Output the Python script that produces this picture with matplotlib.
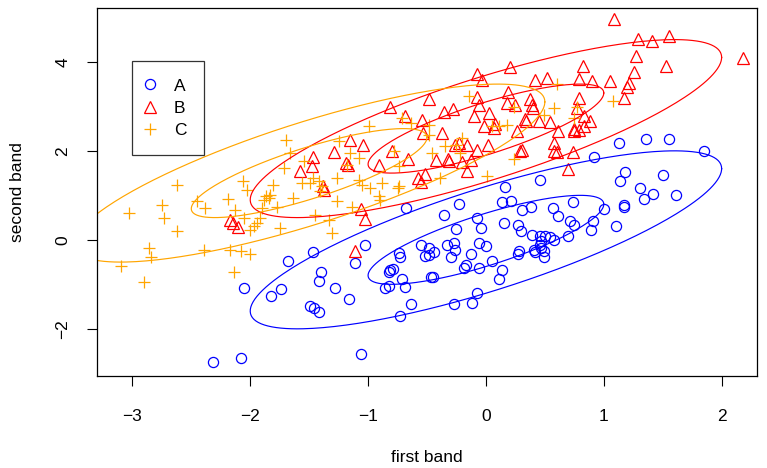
import numpy as np
import matplotlib
matplotlib.use("Agg")
import matplotlib.pyplot as plt
from matplotlib.lines import Line2D

plt.rcParams['font.family'] = ['Liberation Sans', 'DejaVu Sans']

# ---- data ----
A_x = [-2.05,-2.32,-2.08,-1.68,-1.47,-1.11,-1.40,-1.42,-1.28,-1.82,-1.74,-1.49,-1.46,-1.42,-1.16,-1.06,
       -0.81,-0.79,-0.82,-0.73,-0.71,-0.82,-0.86,-0.69,-0.64,-0.73,-0.52,-0.47,-0.44,-0.48,-0.30,-0.26,
       -0.13,-0.45,-0.19,-0.17,-0.06,0.05,0.14,0.11,0.27,0.42,0.49,-0.08,-0.27,-0.12,0.46,0.16,-0.23,
       0.14,0.21,0.31,0.38,0.57,0.74,0.61,-0.36,-0.08,0.15,0.27,0.30,-0.04,-0.25,0.71,0.75,0.91,0.89,
       0.39,0.46,0.50,0.54,0.58,0.47,0.46,0.47,0.70,-0.06,0.00,-0.33,-0.27,-0.48,0.28,0.41,0.49,
       1.13,1.36,1.55,1.85,0.92,1.18,1.14,1.50,1.31,1.42,1.34,1.61,1.17,1.17,1.00,1.10,-0.68,-1.03,
       -0.55,-0.74]
A_y = [-1.08,-2.74,-2.65,-0.47,-0.27,-0.52,-0.72,-0.92,-1.08,-1.26,-1.10,-1.48,-1.53,-1.62,-1.33,-2.56,
       -0.67,-0.65,-0.72,-0.38,-0.88,-1.03,-1.08,-1.06,-1.44,-1.71,-0.36,-0.83,-0.27,-0.34,-0.38,-0.22,
       -0.31,-0.83,-0.63,-0.56,-0.63,-0.47,-0.67,-0.88,-0.31,-0.27,-0.38,-1.19,-1.44,-1.42,1.35,1.19,0.81,
       0.85,0.88,0.67,0.74,0.72,0.85,0.54,0.56,0.49,0.38,0.34,0.20,0.27,0.25,0.43,0.34,0.43,0.22,
       0.11,0.09,0.09,0.07,0.00,-0.02,-0.11,-0.18,0.09,-0.07,-0.13,-0.11,-0.07,-0.18,-0.25,-0.22,-0.25,
       2.18,2.27,2.27,2.00,1.87,1.53,1.33,1.46,1.17,1.03,0.92,1.01,0.79,0.74,0.70,0.31,0.72,-0.11,
       -0.11,-0.29]

B_x = [-2.17,-2.15,-2.10,-1.15,-1.04,-1.29,-1.47,-1.48,-1.58,-1.19,-1.17,-1.38,-1.37,-1.06,-1.03,-0.91,
       -0.80,-0.66,-0.53,-0.52,-0.58,-0.55,-1.11,-0.81,-0.48,-0.69,-0.54,-0.08,0.20,-0.03,-0.36,-0.28,
       -0.10,0.03,-0.08,-0.06,0.19,0.18,0.25,0.37,0.39,0.40,0.33,0.34,0.45,0.54,0.42,0.52,0.82,0.79,
       0.90,0.79,0.77,0.83,0.88,0.83,-0.02,0.08,0.26,0.61,0.75,-0.37,0.07,-0.26,-0.23,-0.16,-0.08,0.02,
       -0.42,-0.32,-0.31,-0.20,-0.13,-0.16,0.31,0.29,0.79,0.75,0.58,0.58,0.60,0.74,0.70,1.09,1.29,1.41,
       1.55,2.18,1.27,1.53,1.26,1.05,1.21,1.20,1.17]
B_y = [0.45,0.38,0.29,2.25,2.13,1.98,1.87,1.66,1.55,1.73,1.69,1.21,1.12,0.70,0.47,1.69,
       2.00,1.82,2.40,1.48,1.39,1.30,-0.25,2.99,3.17,2.79,2.70,3.73,3.89,3.60,2.88,2.94,
       2.79,2.85,3.21,3.03,3.33,3.08,3.03,3.17,3.03,2.97,2.72,2.67,2.67,2.65,3.60,3.64,3.91,3.62,
       3.57,3.19,2.97,2.79,2.67,2.56,2.56,2.61,2.45,2.45,2.49,2.40,2.52,2.13,2.18,2.13,2.02,2.13,
       1.80,1.82,1.78,1.75,1.80,1.55,2.02,2.00,2.47,2.45,2.18,2.00,1.98,1.98,1.60,4.97,4.52,4.47,
       4.58,4.09,4.13,3.91,3.78,3.57,3.53,3.44,3.19]

C_x = [-2.62,-2.75,-2.73,-3.03,-2.62,-2.86,-2.45,-2.38,-2.19,-2.06,-2.03,-2.13,-2.05,-2.00,-1.97,-1.94,
       -1.92,-1.88,-1.90,-2.39,-2.17,-2.08,-3.10,-2.90,-2.84,-2.00,-2.14,-1.70,-1.66,-1.54,-1.71,-1.81,
       -1.87,-1.84,-1.83,-1.64,-1.77,-1.75,-1.45,-1.33,-1.31,-1.26,-1.14,-1.25,-1.15,-1.08,-1.18,-1.47,
       -1.42,-1.39,-1.26,-1.08,-1.05,-0.98,-0.88,-0.75,-0.91,-0.90,-0.74,-0.78,-0.74,-1.56,-1.49,-1.41,
       -0.99,-0.71,-0.64,-0.14,0.24,0.18,0.11,0.05,0.58,0.75,0.77,0.49,0.60,-0.48,-0.20,-0.25,-0.22,
       -0.35,-0.46,-0.48,0.24,0.01,-0.39,1.08]
C_y = [1.24,0.79,0.49,0.61,0.20,-0.18,0.88,0.72,0.92,1.33,1.12,0.67,0.49,0.22,0.31,0.38,
       0.49,0.90,0.72,-0.22,-0.22,-0.25,-0.58,-0.94,-0.38,-0.31,-0.72,2.25,1.96,1.78,1.62,1.24,
       0.99,0.94,1.01,0.94,0.74,0.27,0.56,0.45,0.16,0.88,0.74,2.22,1.96,1.84,1.69,1.39,
       1.33,1.21,1.39,1.35,1.24,1.17,1.28,1.17,0.99,0.90,1.21,2.00,1.66,1.28,1.28,1.10,
       2.56,2.74,2.63,3.24,2.99,2.58,2.56,2.56,2.97,2.74,2.99,2.81,3.51,2.58,2.29,2.13,1.96,
       2.11,1.96,2.36,1.82,1.44,1.39,3.12]

class_names = ["A", "B", "C"]
class_means = [(0.0, 0.0), (0.0, 2.5), (-1.5, 1.5)]
class_cov = [[1.0, 0.8], [0.8, 1.0]]
ellipse_scales = [1.0, 2.0]

xticks = [-3, -2, -1, 0, 1, 2]
yticks = [-2, 0, 2, 4]

colors = ["#0000FF", "#FF0000", "#FFA500"]
markers = ["o", "^", "+"]
msizes = [7.3, 8.3, 9]

FS = 12.5

fig = plt.figure(figsize=(7.67, 4.68), dpi=100)
ax = fig.add_axes([97/767, 1-376/468, 660/767, 368/468])

series = [(A_x, A_y), (B_x, B_y), (C_x, C_y)]
for (sx, sy), c, m, ms in zip(series, colors, markers, msizes):
    if m == "+":
        ax.plot(sx, sy, linestyle="none", marker=m, markersize=ms, color=c, markeredgewidth=0.9)
    else:
        ax.plot(sx, sy, linestyle="none", marker=m, markersize=ms, markerfacecolor="none",
                markeredgecolor=c, markeredgewidth=0.9)

# concentration ellipses
L = np.linalg.cholesky(np.array(class_cov))
t = np.linspace(0, 2*np.pi, 300)
circ = np.vstack([np.cos(t), np.sin(t)])
for mu, c in zip(class_means, colors):
    for s in ellipse_scales:
        pts = (L @ circ) * s
        ax.plot(mu[0] + pts[0], mu[1] + pts[1], color=c, linewidth=0.85)

ax.set_xlim(-3.30, 2.30)
ax.set_ylim(-3.06, 5.21)
ax.set_xticks(xticks)
ax.set_yticks(yticks)
ax.set_xticklabels([str(v).replace("-", "\u2212") for v in xticks])
ax.set_yticklabels([str(v).replace("-", "\u2212") for v in yticks], rotation=90, va="center")
ax.tick_params(axis="x", direction="out", length=7, width=0.8, labelsize=FS, pad=17)
ax.tick_params(axis="y", direction="out", length=7, width=0.8, labelsize=FS, pad=12)
for sp in ax.spines.values():
    sp.set_linewidth(0.9)

fig.text(427/767, 1-458/468, "first band", fontsize=FS, ha="center", va="center")
fig.text(18/767, 1-192/468, "second band", fontsize=FS, ha="center", va="center", rotation=90)

handles = [Line2D([], [], linestyle="none", marker=m, markersize=ms, color=c,
                  markerfacecolor="none", markeredgecolor=c, markeredgewidth=0.9)
           for c, m, ms in zip(colors, markers, msizes)]
leg = ax.legend(handles, class_names, loc="upper left", bbox_to_anchor=(35/660, 1-53/368),
                frameon=True, fancybox=False, edgecolor="black", fontsize=FS,
                handletextpad=1.3, borderpad=1.0, labelspacing=0.4, handlelength=0.1,
                borderaxespad=0)
leg.get_frame().set_linewidth(0.9)

fig.savefig("out.png", dpi=100)
